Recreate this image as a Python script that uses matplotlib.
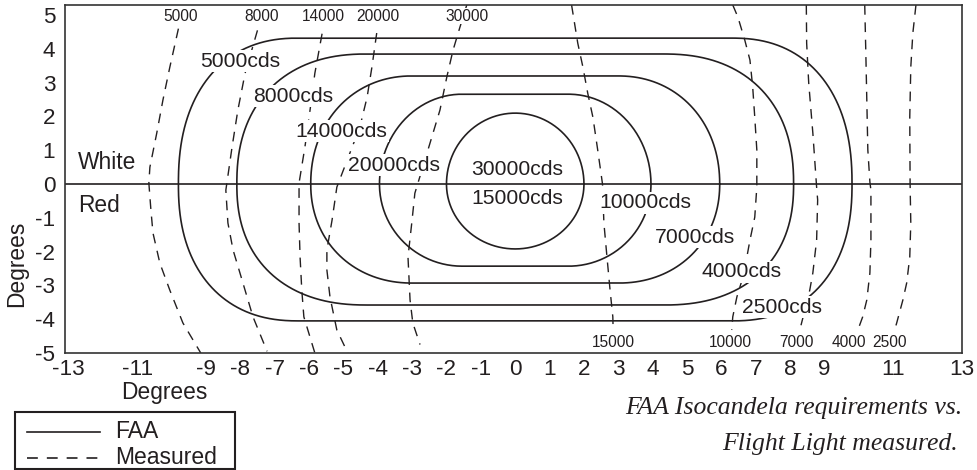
import numpy as np
import matplotlib.pyplot as plt
from matplotlib.lines import Line2D
from matplotlib.patches import Rectangle

plt.rcParams['font.family'] = ['Liberation Sans', 'DejaVu Sans']
plt.rcParams['axes.unicode_minus'] = False
ink = '#231f20'

# FAA isocandela outlines: white spec above 0, red spec below 0
faa_white = ["5000cds", "8000cds", "14000cds", "20000cds", "30000cds"]
faa_red = ["2500cds", "4000cds", "7000cds", "10000cds", "15000cds"]
faa_half_width = [9.8, 8.1, 5.95, 3.95, 2.0]
faa_top = [4.32, 3.85, 3.20, 2.66, 2.10]
faa_bottom = [-4.05, -3.58, -2.93, -2.43, -1.92]
faa_corner = [3.5, 3.8, 2.95, 2.4, 2.0]
faa_shape = [2.3, 2.3, 2.1, 2.0, 2.0]

# where the FAA labels sit
white_lbl_x = [-8.01, -6.47, -5.07, -3.53, 0.05]
white_lbl_y = [3.64, 2.60, 1.57, 0.56, 0.44]
red_lbl_x = [7.76, 6.59, 5.22, 3.80, 0.05]
red_lbl_y = [-3.64, -2.60, -1.57, -0.56, -0.44]

# measured isocandela traces (degrees horizontal, degrees vertical)
meas_white = ["5000", "8000", "14000", "20000", "30000"]
meas_white_x = [
    [-9.80, -10.05, -10.25, -10.43, -10.63, -10.66, -10.60, -10.54, -10.34, -10.05, -9.67, -9.15],
    [-7.50, -7.86, -8.07, -8.24, -8.39, -8.42, -8.36, -8.21, -8.01, -7.63, -7.22],
    [-5.62, -5.83, -5.97, -6.12, -6.29, -6.29, -6.26, -6.21, -6.15, -5.92, -5.83],
    [-4.03, -4.17, -4.31, -4.52, -4.81, -5.19, -5.33, -5.48, -5.48, -5.39, -5.19, -4.87],
    [-1.41, -1.61, -1.81, -1.99, -2.19, -2.48, -2.69, -2.92, -3.01, -3.12, -3.06, -2.98, -2.77],
]
meas_white_y = [
    [4.60, 3.46, 2.49, 1.51, 0.50, 0.03, -0.77, -1.45, -2.34, -3.14, -4.11, -5.0],
    [4.55, 3.28, 2.19, 1.09, 0.03, -0.18, -1.15, -1.95, -2.63, -3.93, -4.95],
    [4.45, 3.28, 2.19, 1.09, 0.03, -1.15, -2.16, -3.14, -3.93, -4.70, -5.0],
    [4.47, 3.46, 2.57, 1.69, 0.92, -0.09, -1.07, -1.95, -2.54, -3.34, -4.32, -5.0],
    [5.30, 4.64, 3.96, 3.17, 2.19, 1.21, 0.50, -0.27, -1.15, -2.16, -3.43, -4.11, -4.75],
]
meas_white_lbl_x = [-9.73, -7.37, -5.57, -4.0, -1.41]

meas_red = ["15000", "10000", "7000", "4000", "2500"]
meas_red_x = [
    [1.64, 1.82, 1.97, 2.11, 2.26, 2.40, 2.54, 2.58, 2.67, 2.76, 2.84, 2.85],
    [6.33, 6.48, 6.68, 6.83, 6.91, 6.97, 7.03, 7.03, 6.97, 6.83, 6.74, 6.60, 6.45, 6.33, 6.30],
    [8.47, 8.48, 8.54, 8.66, 8.77, 8.80, 8.77, 8.66, 8.57, 8.48, 8.28],
    [10.17, 10.20, 10.23, 10.26, 10.32, 10.35, 10.35, 10.32, 10.23, 10.11, 9.97],
    [11.66, 11.57, 11.51, 11.48, 11.49, 11.51, 11.48, 11.39, 11.28, 11.10, 11.03],
]
meas_red_y = [
    [5.30, 4.17, 3.46, 2.69, 1.98, 1.01, 0.0, -1.15, -2.16, -3.14, -3.93, -4.35],
    [5.30, 4.94, 4.26, 3.67, 2.87, 1.98, 1.01, -0.09, -0.98, -1.66, -2.16, -2.84, -3.34, -3.93, -4.32],
    [5.30, 4.17, 2.99, 1.51, -0.09, -0.47, -1.66, -2.63, -3.14, -3.52, -4.32],
    [5.30, 3.96, 2.49, 1.01, 0.06, -0.18, -1.66, -2.63, -3.43, -3.93, -4.32],
    [5.30, 4.47, 3.46, 1.98, 0.0, -1.15, -2.16, -2.93, -3.43, -4.11, -4.35],
]
meas_red_lbl_x = [2.87, 6.27, 8.19, 9.70, 10.90]

xticks = [-13, -11, -9, -8, -7, -6, -5, -4, -3, -2, -1, 0, 1, 2, 3, 4, 5, 6, 7, 8, 9, 11, 13]
yticks = [-5, -4, -3, -2, -1, 0, 1, 2, 3, 4, 5]


def outline(w, top, bot, r, n):
    t = np.linspace(0, np.pi / 2, 80)
    ux = (w - r) + r * np.cos(t) ** (2 / n)
    s = np.sin(t) ** (2 / n)
    xs = np.concatenate([ux, -ux[::-1], -ux, ux[::-1]])
    ys = np.concatenate([top * s, top * s[::-1], bot * s, bot * s[::-1]])
    return xs, ys


W, H = 977, 470
fig = plt.figure(figsize=(W / 100, H / 100), dpi=100)
ax = fig.add_axes([65 / W, 117 / H, 897 / W, 348 / H])

for w, tp, bt, r, n in zip(faa_half_width, faa_top, faa_bottom, faa_corner, faa_shape):
    xs, ys = outline(w, tp, bt, r, n)
    ax.plot(xs, ys, color=ink, lw=1.2)

dash = (0, (7, 5.5))
for xs, ys in zip(meas_white_x + meas_red_x, meas_white_y + meas_red_y):
    ax.plot(xs, ys, color=ink, lw=1.0, ls=dash)

ax.axhline(0, color=ink, lw=1.2)

box = dict(boxstyle='square,pad=0.08', fc='white', ec='none')
for lbl, x, y in zip(faa_white, white_lbl_x, white_lbl_y):
    ax.text(x, y, lbl, ha='center', va='center', fontsize=15.2, color=ink, bbox=box)
for lbl, x, y in zip(faa_red, red_lbl_x, red_lbl_y):
    ax.text(x, y, lbl, ha='center', va='center', fontsize=15.2, color=ink, bbox=box)

small_box = dict(boxstyle='square,pad=0.05', fc='white', ec='none')
for lbl, x in zip(meas_white, meas_white_lbl_x):
    ax.text(x, 4.97, lbl, ha='center', va='center', fontsize=11.2, color=ink, bbox=small_box)
for lbl, x in zip(meas_red, meas_red_lbl_x):
    ax.text(x, -4.70, lbl, ha='center', va='center', fontsize=11.2, color=ink, bbox=small_box)

ax.text(-11.88, 0.65, "White", ha='center', va='center', fontsize=16.4, color=ink)
ax.text(-12.11, -0.62, "Red", ha='center', va='center', fontsize=16.4, color=ink)

ax.set_xlim(-13.1, 13.0)
ax.set_ylim(-5, 5.3)
ax.set_xticks(xticks)
ax.set_yticks(yticks)
ax.tick_params(axis='both', length=0, labelsize=16.2, colors=ink)
ax.tick_params(axis='x', pad=4)
ax.tick_params(axis='y', pad=7)
for sp in ax.spines.values():
    sp.set_color('#333333')
    sp.set_linewidth(1.2)

fig.text(164 / W, 1 - 393 / H, "Degrees", ha='center', va='center', fontsize=16.4, color=ink)
fig.text(16.5 / W, 1 - 264 / H, "Degrees", ha='center', va='center', rotation=90,
         fontsize=16.4, color=ink)

# legend box drawn by hand below the plot
fig.patches.append(Rectangle((15 / W, 1 - 469 / H), 220 / W, 57 / H, transform=fig.transFigure,
                             fill=False, ec=ink, lw=1.5))
fig.add_artist(Line2D([27 / W, 100 / W], [1 - 432 / H] * 2, color=ink, lw=1.2,
                      transform=fig.transFigure))
fig.add_artist(Line2D([27 / W, 100 / W], [1 - 458 / H] * 2, color=ink, lw=1.2,
                      ls=(0, (6.5, 5.4)), transform=fig.transFigure))
fig.text(115 / W, 1 - 432 / H, "FAA", ha='left', va='center', fontsize=16.5, color=ink)
fig.text(115 / W, 1 - 458 / H, "Measured", ha='left', va='center', fontsize=16.5, color=ink)

cap = dict(family='Liberation Serif', style='italic', fontsize=18.5, color=ink)
fig.text(962 / W, 1 - 408 / H, "FAA Isocandela requirements vs.", ha='right', va='center', **cap)
fig.text(958 / W, 1 - 444 / H, "Flight Light measured.", ha='right', va='center', **cap)

fig.savefig("out.png", dpi=100)
